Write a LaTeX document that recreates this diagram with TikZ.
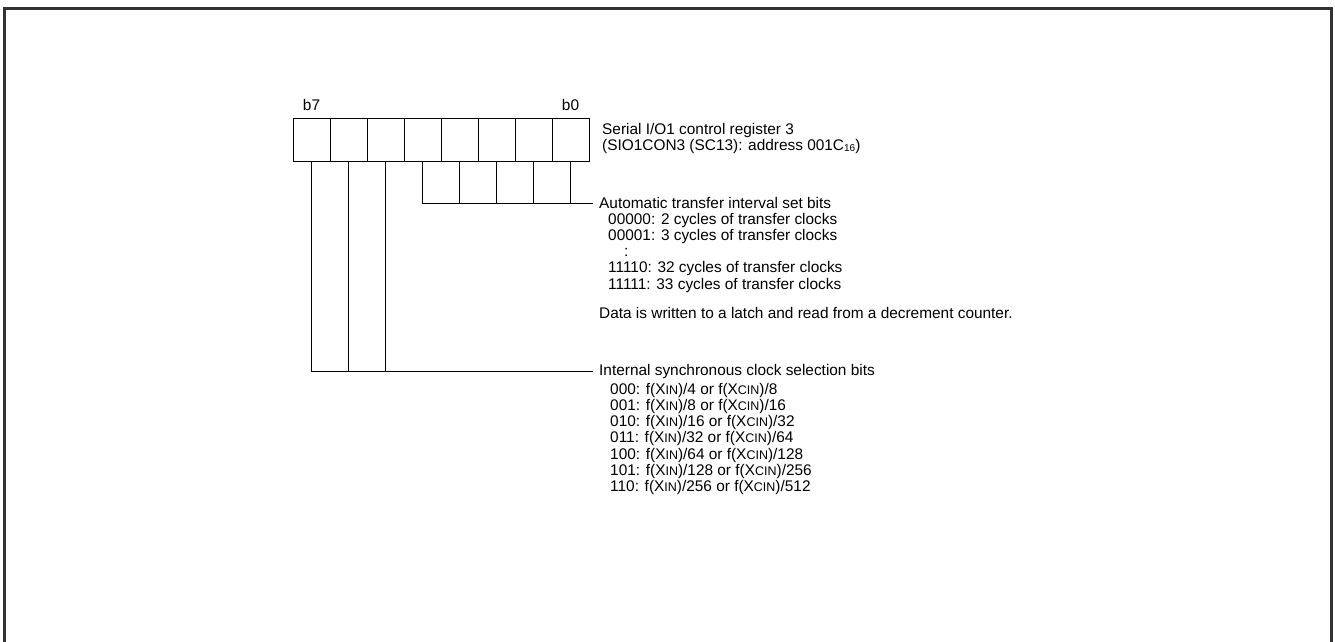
\documentclass[tikz,border=0pt]{standalone}
\usepackage{fontspec}
\setmainfont{Liberation Sans}
\usetikzlibrary{positioning,calc}
\newcommand{\xin}{X{\fontsize{12.5}{12.5}\selectfont IN}}
\newcommand{\xcin}{X{\fontsize{12.5}{12.5}\selectfont CIN}}
\newcommand{\sixteen}{{\fontsize{10}{10}\selectfont\raisebox{-1pt}{16}}}
\tikzset{
  frame/.style={line width=2.5pt,draw=black!80},
  regbit/.style={draw,line width=0.9pt,rectangle,minimum width=37pt,minimum height=43pt,
    inner sep=0pt,outer sep=0pt},
  lead/.style={line width=0.9pt},
  bitlabel/.style={inner sep=0pt},
  desc/.style={inner sep=0pt,align=left,anchor=north west,
    font=\fontsize{15.4}{16.2}\selectfont}
}
\begin{document}
\begin{tikzpicture}[x=1pt,y=-1pt,font=\fontsize{15.4}{16.2}\selectfont]
  \useasboundingbox (0,0) rectangle (1335,642);
  \draw [frame] (4.5,642) -- (4.5,8.5) -- (1331.5,8.5) -- (1331.5,642);

  % register cells b7 .. b0
  \node [regbit] (c7) at (311.5,139.5) {};
  \foreach \i [evaluate=\i as \j using int(\i+1)] in {6,5,...,0}
    \node [regbit,right=0pt of c\j] (c\i) {};
  \node [bitlabel,above=7pt of c7] (b7) {b7};
  \node [bitlabel,above=7pt of c0] (b0) {b0};
  \node [desc,right=13pt of c0.north east,anchor=north west,yshift=-5pt] (regname)
    {Serial I/O1 control register 3\\(SIO1CON3 (SC13): address 001C\sixteen)};

  % interval bits
  \coordinate (autoend) at (593,203);
  \node [desc,anchor=west] (autohd) at (599,203) {Automatic transfer interval set bits};
  \node [desc] (autolist) at (608,213)
    {00000: 2 cycles of transfer clocks\\
     00001: 3 cycles of transfer clocks\\
     \hspace{16pt}:\\
     11110: 32 cycles of transfer clocks\\
     11111: 33 cycles of transfer clocks};
  \node [desc,anchor=west] (note) at (599,313)
    {Data is written to a latch and read from a decrement counter.};
  \draw [lead] (c4.south) |- (autoend);
  \foreach \i in {3,2,1,0}
    \draw [lead] (c\i.south) -- (c\i.south |- autoend);

  % clock selection bits
  \coordinate (clkend) at (593,371);
  \node [desc,anchor=west] (clkhd) at (599,372) {Internal synchronous clock selection bits};
  \node [desc] (clklist) at (610,383)
    {000: f(\xin)/4 or f(\xcin)/8\\
     001: f(\xin)/8 or f(\xcin)/16\\
     010: f(\xin)/16 or f(\xcin)/32\\
     011: f(\xin)/32 or f(\xcin)/64\\
     100: f(\xin)/64 or f(\xcin)/128\\
     101: f(\xin)/128 or f(\xcin)/256\\
     110: f(\xin)/256 or f(\xcin)/512};
  \draw [lead] (c7.south) |- (clkend);
  \foreach \i in {6,5}
    \draw [lead] (c\i.south) -- (c\i.south |- clkend);
\end{tikzpicture}
\end{document}
